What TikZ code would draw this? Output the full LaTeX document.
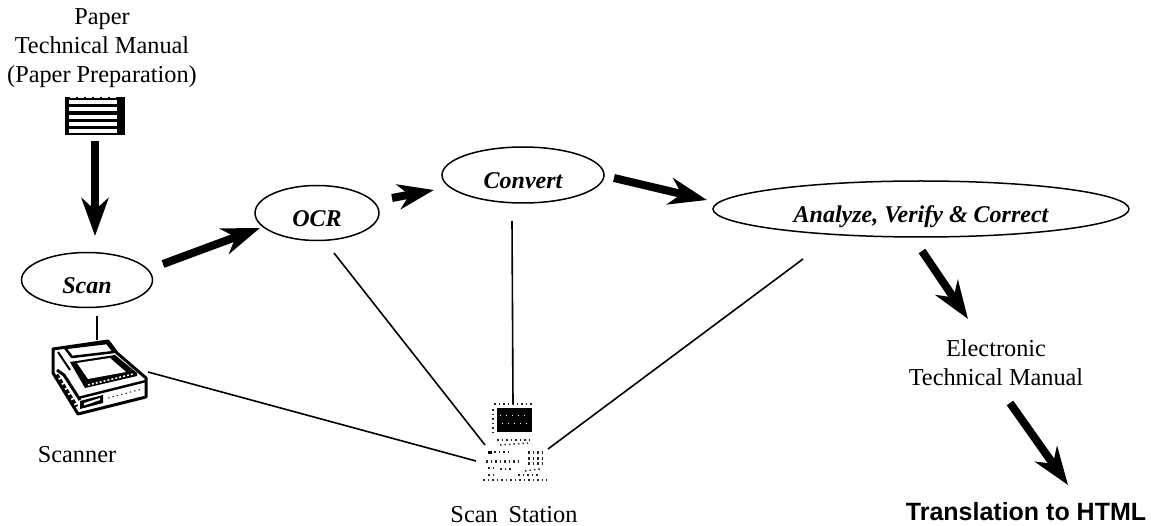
\documentclass[tikz,border=0pt]{standalone}
\usepackage{fontspec}
\setmainfont{Liberation Serif}
\newfontfamily\headsans{Liberation Sans}
\usetikzlibrary{arrows.meta,shapes.geometric}
\tikzset{
  x=1pt,y=-1pt,
  label text/.style={inner sep=0pt,align=center,font=\fontsize{24.3}{29}\selectfont,text=black},
  task/.style={draw=black,line width=1.5pt,ellipse,inner sep=0pt,text height=27pt,text depth=0pt,font=\fontsize{24}{28}\selectfont\bfseries\itshape},
  flow/.style={line width=8pt,-{Stealth[length=38pt,width=27pt,inset=12pt]}},
  short flow/.style={line width=8pt,-{Stealth[length=36pt,width=25pt,inset=11pt]}},
  link/.style={line width=1.6pt,black},
  dither/.style={line width=1.5pt,dash pattern=on 1.5pt off 3pt,black!85},
}
\begin{document}
\begin{tikzpicture}
\useasboundingbox (0,0) rectangle (1151,526);
% texts
\node[label text] (paper) at (102,48) {Paper\\Technical Manual\\(Paper Preparation)};
\node[label text] (scannerlabel) at (77,455) {Scanner};
\node[label text] (stationlabel) at (514,515) {Scan\hspace{0.45em}Station};
\node[label text] (manual) at (996,363) {Electronic\\Technical Manual};
\node[inner sep=0pt,font=\headsans\bfseries\fontsize{25}{30}\selectfont] (html) at (1026,512) {Translation to HTML};
% ellipses
\node[task,minimum width=131pt,minimum height=55pt] (scan) at (87,280) {Scan};
\node[task,minimum width=124pt,minimum height=55pt] (ocr) at (317,213) {OCR};
\node[task,minimum width=162pt,minimum height=56pt] (convert) at (523,175) {Convert};
\node[task,minimum width=416pt,minimum height=56pt] (analyze) at (921,209) {Analyze, Verify \& Correct};
% paper icon
\node[inner sep=0pt,minimum width=60pt,minimum height=38pt,fill=black] (papericon) at (95,116) {};
\foreach \yy in {100.5,107.5,115,122.5,129.5}
  \fill[white] (69,\yy) rectangle (117,\yy+4);
\draw[white,line width=1pt,dash pattern=on 6pt off 2pt] (70,98) -- (116,98);
% scanner icon
\fill[white,draw=black,line width=3pt,line join=round] (53,349) -- (108,341) -- (117,353) -- (146,378) -- (146,397) -- (78,414) -- (53,373) -- cycle;
\draw[line width=2.5pt,line join=round] (65,348) -- (107,343) -- (114,352) -- (72,357) -- cycle;
\draw[line width=2pt] (58,352) -- (70,370);
\fill[black] (70,362) -- (115,355) -- (137,373) -- (137,376) -- (85,388) -- cycle;
\fill[white] (77,363) -- (110,358) -- (126,372) -- (88,379) -- cycle;
\draw[white,line width=1.5pt,dash pattern=on 2pt off 2pt] (88,385) -- (133,374);
\draw[line width=3pt] (57,370) -- (64,375) -- (80,400);
\draw[black,line width=5pt,dash pattern=on 4pt off 2pt] (56,375) -- (76,407);
\draw[line width=2.5pt] (78,398) -- (146,381);
\fill[black] (80,401) -- (103,395) -- (103,403) -- (80,409) -- cycle;
\fill[white] (84,403) -- (100,398) -- (100,400) -- (84,405.5) -- cycle;
\draw[dither,line width=1pt] (108,398) -- (142,389);
% station icon
\node[inner sep=0pt,minimum width=35pt,minimum height=24pt,fill=black] (monitor) at (514.5,420) {};
\draw[white,line width=1pt,dash pattern=on 1pt off 5pt] (500,415) -- (530,415);
\draw[white,line width=1pt,dash pattern=on 1pt off 5pt] (502,423) -- (530,423);
\draw[dither] (494,404) -- (534,404);
\draw[dither] (493,409) -- (493,435);
\draw[dither] (497,440) -- (530,440);
\draw[dither] (500,445) -- (528,443);
\draw[line width=3pt] (488,452) -- (492,452);
\draw[dither] (494,452) -- (511,452);
\draw[dither,line width=3pt] (486,461) -- (522,461);
\draw[dither] (488,468) -- (496,468);
\draw[dither] (500,469) -- (513,469);
\draw[dither] (488,475) -- (494,475);
\draw[dither] (518,475) -- (540,475);
\draw[dither] (525,471) -- (540,469);
\draw[dither,line width=3pt] (528,452) -- (543,452);
\draw[dither,line width=3pt] (528,458) -- (543,458);
\draw[dither,line width=3pt] (528,463) -- (543,463);
\draw[dither,line width=2pt] (483,480) -- (547,480);
% coordinates for the connector ends
\coordinate (scanbottom) at (97,316);
\coordinate (scannertop) at (97,340);
\coordinate (scannerside) at (148,372);
\coordinate (stationleft) at (476,461);
\coordinate (ocrlow) at (334,253);
\coordinate (stationupleft) at (485,445);
\coordinate (convertlow) at (512,221);
\coordinate (stationtop) at (513,404);
\coordinate (analyzelow) at (803,259);
\coordinate (stationright) at (548,449);
% thin links
\draw[link] (scanbottom) -- (scannertop);
\draw[link] (scannerside) -- (stationleft);
\draw[link] (ocrlow) -- (stationupleft);
\draw[link] (convertlow) -- (stationtop);
\draw[link] (analyzelow) -- (stationright);
% thick arrows
\coordinate (a1) at (95,141); \coordinate (a2) at (95,236);
\coordinate (b1) at (163,264); \coordinate (b2) at (260,228);
\coordinate (c1) at (392,198); \coordinate (c2) at (434,190);
\coordinate (d1) at (614,178); \coordinate (d2) at (707,200);
\coordinate (e1) at (922,251); \coordinate (e2) at (968,319);
\coordinate (f1) at (1010,403); \coordinate (f2) at (1068,485);
\draw[flow] (a1) -- (a2);
\draw[flow] (b1) -- (b2);
\draw[short flow] (c1) -- (c2);
\draw[flow] (d1) -- (d2);
\draw[flow] (e1) -- (e2);
\draw[flow] (f1) -- (f2);
\end{tikzpicture}
\end{document}
